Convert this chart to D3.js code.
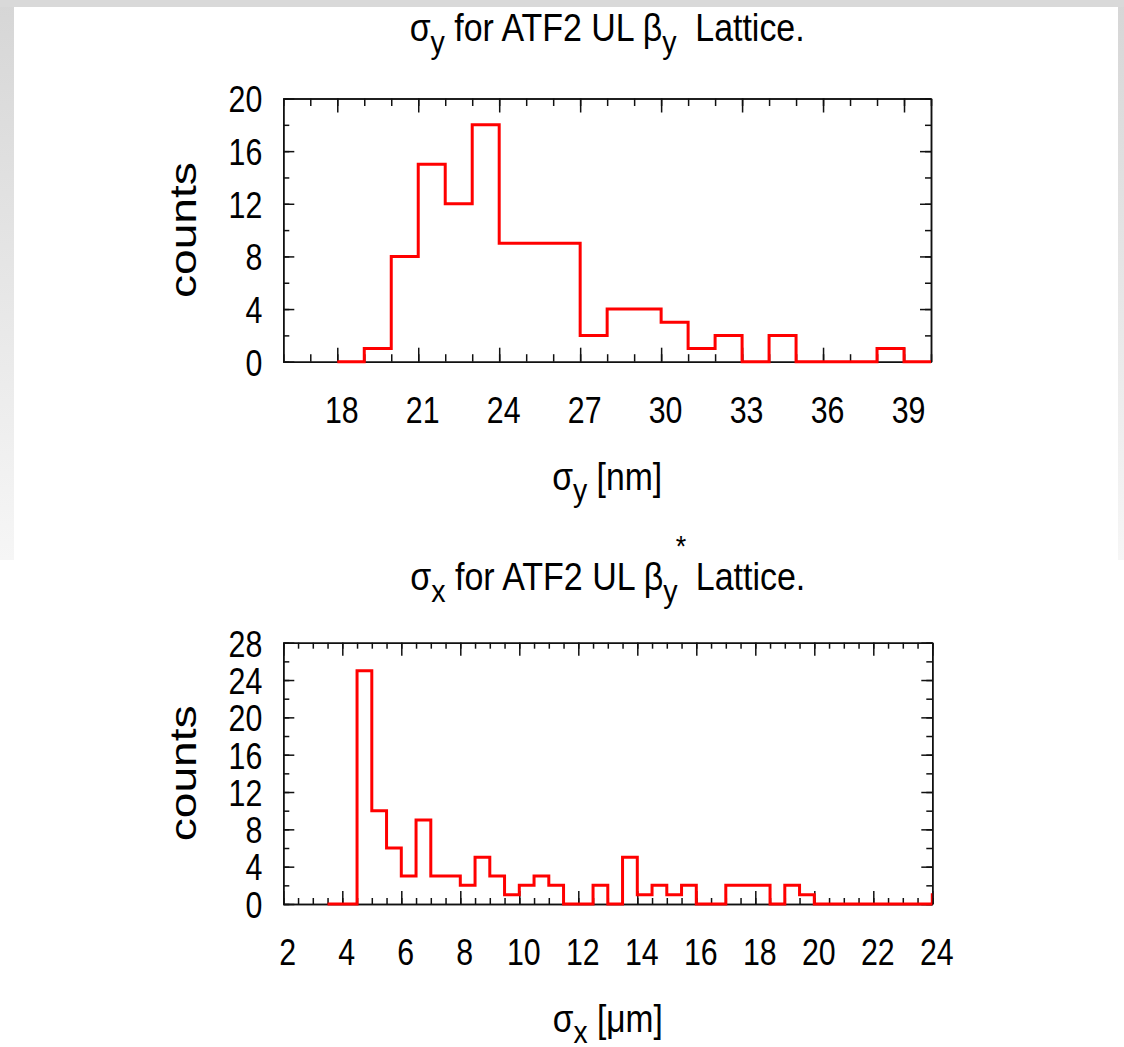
<!DOCTYPE html>
<html>
<head>
<meta charset="utf-8">
<script src="https://cdn.jsdelivr.net/npm/d3@7"></script>
<style>
  body { margin: 0; background: #fff; }
  svg { display: block; font-family: "Liberation Sans", Arial, Helvetica, sans-serif; }
  text { white-space: pre; }
</style>
</head>
<body>
<div id="chart"></div>
<script>
// sigma_y histogram [nm], bins of width 1 (left edges)
const sigmaYBinStarts = [18, 19, 20, 21, 22, 23, 24, 25, 26, 27, 28, 29, 30, 31, 32, 33, 34, 35, 36, 37, 38, 39];
const sigmaYCounts = [0, 1, 8, 15, 12, 18, 9, 9, 9, 2, 4, 4, 3, 1, 2, 0, 2, 0, 0, 0, 1, 0];
const sigmaYTicks = [18, 21, 24, 27, 30, 33, 36, 39];
const sigmaYCountTicks = [0, 4, 8, 12, 16, 20];

// sigma_x histogram [um], bins of width 0.5 (left edges)
const sigmaXBinStarts = [3.5, 4, 4.5, 5, 5.5, 6, 6.5, 7, 7.5, 8, 8.5, 9, 9.5, 10, 10.5, 11, 11.5, 12, 12.5, 13,
  13.5, 14, 14.5, 15, 15.5, 16, 16.5, 17, 17.5, 18, 18.5, 19, 19.5, 20, 20.5, 21, 21.5, 22, 22.5, 23, 23.5, 24];
const sigmaXCounts = [0, 0, 25, 10, 6, 3, 9, 3, 3, 2, 5, 3, 1, 2, 3, 2, 0, 0, 2, 0,
  5, 1, 2, 1, 2, 0, 0, 2, 2, 2, 0, 2, 1, 0, 0, 0, 0, 0, 0, 0, 0, 1];
const sigmaXTicks = [2, 4, 6, 8, 10, 12, 14, 16, 18, 20, 22, 24];
const sigmaXCountTicks = [0, 4, 8, 12, 16, 20, 24, 28];

const width = 1124;
const height = 1047;
const squeeze = 0.82; // the text in the picture is narrow

const svg = d3
  .select("#chart")
  .append("svg")
  .attr("viewBox", [0, 0, width, height])
  .attr("width", width)
  .attr("height", height);

// grey window edges
const defs = svg.append("defs");
const fade = defs
  .append("linearGradient")
  .attr("id", "side-fade")
  .attr("x1", 0).attr("y1", 0).attr("x2", 0).attr("y2", 1);
fade.append("stop").attr("offset", 0).attr("stop-color", "#d6d6d6");
fade.append("stop").attr("offset", 1).attr("stop-color", "#f6f6f6");

svg.append("rect").attr("width", width).attr("height", height).attr("fill", "#fff");
svg.append("rect").attr("x", 0).attr("y", 0).attr("width", 14).attr("height", 560).attr("fill", "url(#side-fade)");
svg.append("rect").attr("x", 1118).attr("y", 0).attr("width", 6).attr("height", 560).attr("fill", "url(#side-fade)");
svg.append("rect").attr("x", 0).attr("y", 0).attr("width", width).attr("height", 7).attr("fill", "#d9d9d9");

const drawPanel = (opt, id) => {
  const x = d3.scaleLinear().domain(opt.xDomain).range([opt.left, opt.right]);
  const y = d3.scaleLinear().domain(opt.yDomain).range([opt.bottom, opt.top]);
  const g = svg.append("g");

  const addAxis = (axis, tx, ty) => {
    const a = g
      .append("g")
      .attr("transform", `translate(${tx},${ty})`)
      .call(axis)
      .attr("font-size", null)
      .attr("font-family", null);
    a.selectAll("path, line").attr("stroke", "#111").attr("stroke-width", 1.5);
    return a;
  };

  // minor ticks on all four sides
  addAxis(d3.axisBottom(x).tickValues(opt.xMinor).tickSizeInner(-opt.xMinorLen).tickSizeOuter(0).tickFormat(""), 0, opt.bottom);
  addAxis(d3.axisTop(x).tickValues(opt.xMinor).tickSizeInner(-opt.xMinorLen).tickSizeOuter(0).tickFormat(""), 0, opt.top);
  addAxis(d3.axisLeft(y).tickValues(opt.yMinor).tickSizeInner(-6).tickSizeOuter(0).tickFormat(""), opt.left, 0);
  addAxis(d3.axisRight(y).tickValues(opt.yMinor).tickSizeInner(-6).tickSizeOuter(0).tickFormat(""), opt.right, 0);

  // major ticks
  const xb = addAxis(
    d3.axisBottom(x).tickValues(opt.xTicks).tickSizeInner(-opt.xMajorLen).tickSizeOuter(0).tickPadding(35),
    0, opt.bottom
  );
  xb.selectAll("text")
    .attr("font-size", 37)
    .attr("fill", "#000")
    .attr("dx", 4 / squeeze)
    .attr("transform", `scale(${squeeze},1)`);
  addAxis(d3.axisTop(x).tickValues(opt.xTicks).tickSizeInner(-opt.xMajorLen).tickSizeOuter(0).tickFormat(""), 0, opt.top);

  const yl = addAxis(
    d3.axisLeft(y).tickValues(opt.yTicks).tickSizeInner(-11).tickSizeOuter(0).tickPadding(21 / squeeze),
    opt.left, 0
  );
  yl.selectAll("text")
    .attr("font-size", 37)
    .attr("fill", "#000")
    .attr("dy", "0.36em")
    .attr("transform", `scale(${squeeze},1)`);
  addAxis(d3.axisRight(y).tickValues(opt.yTicks).tickSizeInner(-11).tickSizeOuter(0).tickFormat(""), opt.right, 0);

  // histogram steps
  defs
    .append("clipPath")
    .attr("id", id)
    .append("rect")
    .attr("x", opt.left)
    .attr("y", 0)
    .attr("width", opt.right - opt.left)
    .attr("height", height);

  const pts = opt.starts.map((s, i) => [s, opt.counts[i]]);
  pts.push([opt.starts[opt.starts.length - 1] + opt.binWidth, opt.counts[opt.counts.length - 1]]);

  const line = d3
    .line()
    .x((d) => x(d[0]))
    .y((d) => y(d[1]))
    .curve(d3.curveStepAfter);

  g.append("path")
    .datum(pts)
    .attr("clip-path", `url(#${id})`)
    .attr("d", line)
    .attr("fill", "none")
    .attr("stroke", "#ff0000")
    .attr("stroke-width", 3);

  // "counts"
  g.append("text")
    .text("counts")
    .attr("transform", `translate(${opt.left - 87},${(opt.top + opt.bottom) / 2}) rotate(-90)`)
    .attr("text-anchor", "middle")
    .attr("font-size", 37)
    .attr("textLength", 136)
    .attr("lengthAdjust", "spacingAndGlyphs");

  // title
  const t = g
    .append("text")
    .attr("x", (opt.left + opt.right) / 2)
    .attr("y", opt.titleY)
    .attr("text-anchor", "middle")
    .attr("font-size", 38)
    .attr("textLength", 395)
    .attr("lengthAdjust", "spacingAndGlyphs");
  opt.title.forEach(([s, size, dy, dx]) => {
    t.append("tspan").text(s).attr("font-size", size).attr("dy", dy).attr("dx", dx || 0);
  });

  // x label
  const xl = g
    .append("text")
    .attr("x", (opt.left + opt.right) / 2)
    .attr("y", opt.bottom + 128)
    .attr("text-anchor", "middle")
    .attr("font-size", 38)
    .attr("textLength", 110)
    .attr("lengthAdjust", "spacingAndGlyphs");
  opt.xLabel.forEach(([s, size, dy]) => {
    xl.append("tspan").text(s).attr("font-size", size).attr("dy", dy);
  });
};

drawPanel(
  {
    left: 283.3, right: 931, top: 98.5, bottom: 361.7,
    xDomain: [16, 40], yDomain: [0, 20],
    xTicks: sigmaYTicks, xMinor: d3.range(16, 41, 1), xMajorLen: 14, xMinorLen: 7.5,
    yTicks: sigmaYCountTicks, yMinor: d3.range(0, 21, 2),
    starts: sigmaYBinStarts, counts: sigmaYCounts, binWidth: 1,
    titleY: 41,
    title: [["σ", 38, 0], ["y", 32, 12], [" for ATF2 UL β", 38, -12], ["y", 32, 12], ["  Lattice.", 38, -12]],
    xLabel: [["σ", 38, 0], ["y", 32, 11], [" [nm]", 38, -11]],
  },
  "clip-top"
);

drawPanel(
  {
    left: 283.3, right: 932.3, top: 642.7, bottom: 904,
    xDomain: [2, 24], yDomain: [0, 28],
    xTicks: sigmaXTicks, xMinor: d3.range(2, 24.01, 0.5), xMajorLen: 13, xMinorLen: 6,
    yTicks: sigmaXCountTicks, yMinor: d3.range(0, 29, 2),
    starts: sigmaXBinStarts, counts: sigmaXCounts, binWidth: 0.5,
    titleY: 590,
    title: [["σ", 38, 0], ["x", 32, 12], [" for ATF2 UL β", 38, -12], ["y", 32, 12], ["*", 30, -46, -2], [" Lattice.", 38, 34]],
    xLabel: [["σ", 38, 0], ["x", 32, 11], [" [μm]", 38, -11]],
  },
  "clip-bottom"
);
</script>
</body>
</html>
